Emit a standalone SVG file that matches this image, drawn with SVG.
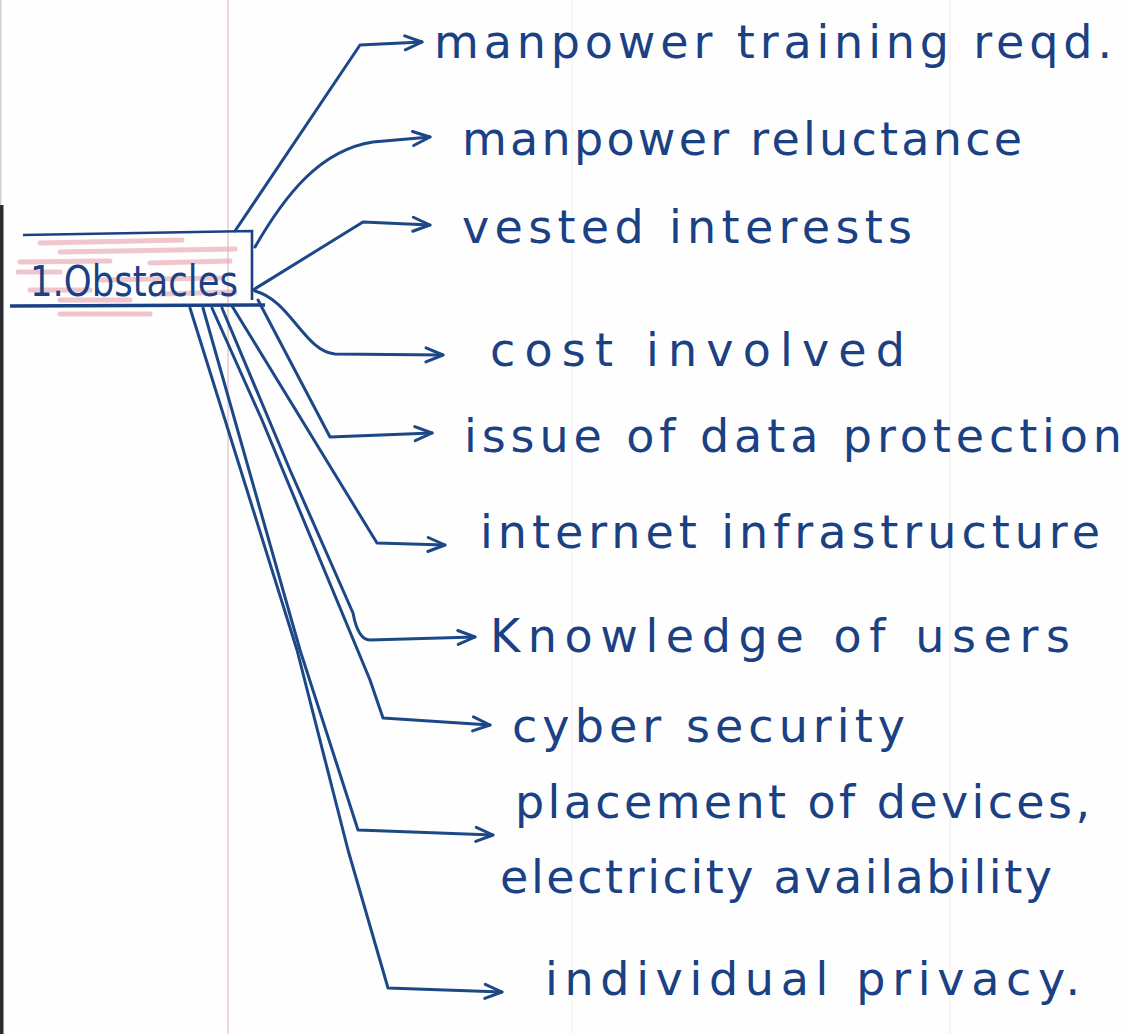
<svg xmlns="http://www.w3.org/2000/svg" width="1131" height="1034" viewBox="0 0 1131 1034">
  <style>
    .ink { fill: #1a4183; font-family: "DejaVu Sans", "Liberation Sans", sans-serif; font-size: 46px; }
    .box-label { font-size: 42px; }
    .wire { fill: none; stroke: #1d4888; stroke-width: 3; stroke-linecap: round; stroke-linejoin: round; marker-end: url(#chev); }
    .hl { stroke: #e4a2ab; stroke-width: 5; stroke-linecap: round; opacity: 0.6; }
  </style>
  <defs>
    <marker id="chev" viewBox="0 0 22 18" refX="20" refY="9" markerWidth="22" markerHeight="18" markerUnits="userSpaceOnUse" orient="auto">
      <path d="M3,2 L20,9 L3,16" fill="none" stroke="#1d4888" stroke-width="3" stroke-linecap="round" stroke-linejoin="round"/>
    </marker>
  </defs>

  <!-- paper -->
  <rect x="0" y="0" width="1131" height="1034" fill="#fefefe"/>
  <line x1="228" y1="0" x2="228" y2="1034" stroke="#ecccd2" stroke-width="1.6"/>
  <line x1="572" y1="0" x2="572" y2="1034" stroke="#f4f4f4" stroke-width="1.2"/>
  <line x1="950" y1="0" x2="950" y2="1034" stroke="#f0f0f0" stroke-width="1.4"/>
  <rect x="0" y="0" width="1.5" height="205" fill="#d0d0d0"/>
  <rect x="0" y="205" width="3.5" height="829" fill="#2b2e31"/>

  <!-- central node -->
  <g id="node-obstacles">
    <g class="hl">
      <line x1="40" y1="243" x2="182" y2="240"/>
      <line x1="60" y1="252" x2="235" y2="249"/>
      <line x1="20" y1="262" x2="110" y2="261"/>
      <line x1="150" y1="263" x2="230" y2="261"/>
      <line x1="18" y1="272" x2="60" y2="272"/>
      <line x1="100" y1="280" x2="220" y2="278"/>
      <line x1="30" y1="290" x2="90" y2="290"/>
      <line x1="160" y1="294" x2="235" y2="292"/>
      <line x1="60" y1="300" x2="130" y2="300"/>
      <line x1="60" y1="314" x2="150" y2="314"/>
    </g>
    <path d="M23,235 L252,231 L252,300" fill="none" stroke="#1a4183" stroke-width="2.6"/>
    <path d="M10,306 L265,305" fill="none" stroke="#1a4183" stroke-width="3.4"/>
    <text class="ink box-label" x="30" y="296" textLength="208" lengthAdjust="spacingAndGlyphs">1.Obstacles</text>
  </g>

  <!-- connectors -->
  <g id="connectors">
    <path class="wire" d="M235,231 L360,45 L422,42"/>
    <path class="wire" d="M255,247 C285,195 320,150 373,142 L430,137"/>
    <path class="wire" d="M253,290 L363,222 L430,225"/>
    <path class="wire" d="M255,291 C290,300 305,352 335,354 L443,355"/>
    <path class="wire" d="M258,300 L330,437 L432,433"/>
    <path class="wire" d="M232,306 L377,543 L445,545"/>
    <path class="wire" d="M222,308 L290,470 L353,613 Q358,640 370,640 L475,637"/>
    <path class="wire" d="M212,308 L262,420 L370,680 L383,718 L490,725"/>
    <path class="wire" d="M203,308 L300,650 L358,830 L493,835"/>
    <path class="wire" d="M190,308 L297,650 L348,850 L388,988 L502,992"/>
  </g>

  <!-- leaf nodes -->
  <g id="node-training"><text class="ink" x="434" y="58" textLength="678" lengthAdjust="spacing">manpower training reqd.</text></g>
  <g id="node-reluctance"><text class="ink" x="462" y="155" textLength="560" lengthAdjust="spacing">manpower reluctance</text></g>
  <g id="node-vested"><text class="ink" x="462" y="243" textLength="450" lengthAdjust="spacing">vested interests</text></g>
  <g id="node-cost"><text class="ink" x="490" y="366" textLength="415" lengthAdjust="spacing">cost involved</text></g>
  <g id="node-data"><text class="ink" x="464" y="452" textLength="658" lengthAdjust="spacing">issue of data protection</text></g>
  <g id="node-internet"><text class="ink" x="480" y="548" textLength="620" lengthAdjust="spacing">internet infrastructure</text></g>
  <g id="node-knowledge"><text class="ink" x="490" y="652" textLength="580" lengthAdjust="spacing">Knowledge of users</text></g>
  <g id="node-cyber"><text class="ink" x="512" y="742" textLength="393" lengthAdjust="spacing">cyber security</text></g>
  <g id="node-placement">
    <text class="ink" x="515" y="818" textLength="575" lengthAdjust="spacing">placement of devices,</text>
    <text class="ink" x="500" y="893" textLength="552" lengthAdjust="spacing">electricity availability</text>
  </g>
  <g id="node-privacy"><text class="ink" x="545" y="995" textLength="535" lengthAdjust="spacing">individual privacy.</text></g>
</svg>
